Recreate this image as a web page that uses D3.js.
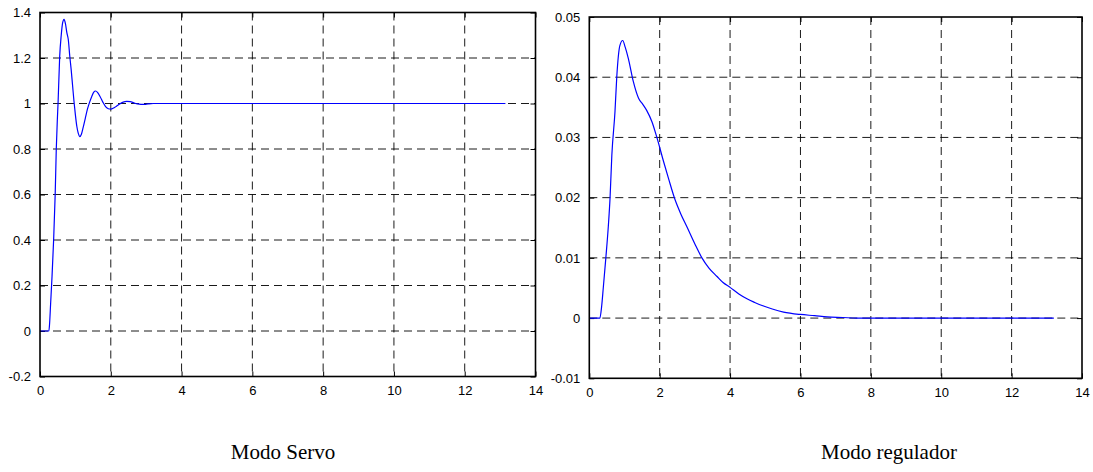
<!DOCTYPE html>
<html>
<head>
<meta charset="utf-8">
<script src="https://cdn.jsdelivr.net/npm/d3@7"></script>
<style>
  html, body { margin: 0; padding: 0; background: #fff; }
  svg { display: block; }
</style>
</head>
<body>
<svg id="chart" width="1093" height="472"></svg>
<script>
// ---- Data ----
const xTicks = [0, 2, 4, 6, 8, 10, 12, 14];

const servoYTicks = [-0.2, 0, 0.2, 0.4, 0.6, 0.8, 1, 1.2, 1.4];
const servoYTickLabels = ["-0.2", "0", "0.2", "0.4", "0.6", "0.8", "1", "1.2", "1.4"];
const servoT = [0, 0.25, 0.27, 0.30, 0.34, 0.385, 0.43, 0.46, 0.49, 0.51, 0.556, 0.60, 0.64, 0.68,
  0.72, 0.76, 0.80, 0.84, 0.88, 0.92, 0.96, 1.00, 1.04, 1.08, 1.12, 1.17, 1.22, 1.28, 1.34, 1.40,
  1.46, 1.52, 1.57, 1.63, 1.70, 1.78, 1.86, 1.93, 2.00, 2.08, 2.16, 2.25, 2.35, 2.45, 2.55, 2.65,
  2.75, 2.85, 2.95, 3.05, 3.20, 13.15];
const servoY = [0, 0, 0.03, 0.12, 0.24, 0.40, 0.605, 0.80, 0.93, 1.0, 1.206, 1.30, 1.355, 1.37,
  1.35, 1.31, 1.28, 1.21, 1.15, 1.08, 1.01, 0.95, 0.90, 0.87, 0.854, 0.865, 0.895, 0.935, 0.975, 1.005,
  1.03, 1.05, 1.055, 1.048, 1.03, 1.005, 0.985, 0.977, 0.975, 0.98, 0.988, 0.998, 1.006, 1.009, 1.008, 1.003,
  0.998, 0.996, 0.996, 0.998, 1.0, 1.0];

const regYTicks = [-0.01, 0, 0.01, 0.02, 0.03, 0.04, 0.05];
const regYTickLabels = ["-0.01", "0", "0.01", "0.02", "0.03", "0.04", "0.05"];
const regT = [0, 0.30, 0.35, 0.40, 0.47, 0.54, 0.59, 0.64, 0.73, 0.78, 0.87, 0.95, 1.02, 1.11, 1.25,
  1.40, 1.52, 1.63, 1.78, 1.92, 2.11, 2.25, 2.44, 2.60, 2.77, 3.00, 3.20, 3.40, 3.63, 3.80, 4.00,
  4.25, 4.48, 4.70, 4.95, 5.20, 5.52, 6.00, 6.40, 6.76, 7.20, 7.60, 13.2];
const regY = [0, 0, 0.0019, 0.0052, 0.010, 0.0152, 0.020, 0.027, 0.0343, 0.040, 0.0453, 0.0461, 0.0450, 0.0431, 0.0393,
  0.0365, 0.0355, 0.0345, 0.0326, 0.0300, 0.026, 0.0232, 0.0196, 0.0173, 0.0152, 0.0123, 0.0100, 0.0083, 0.0069, 0.0059, 0.0051,
  0.0040, 0.0032, 0.0026, 0.0020, 0.0015, 0.0010, 0.0006, 0.0004, 0.0002, 0.0001, 0, 0];

const captions = ["Modo Servo", "Modo regulador"];

// ---- Drawing ----
const svg = d3.select("#chart");

function drawPanel(opt) {
  const x = d3.scaleLinear().domain([0, 14]).range([opt.left, opt.right]);
  const y = d3.scaleLinear().domain(opt.yDomain).range([opt.bottom, opt.top]);
  const g = svg.append("g");

  // grid
  g.selectAll(".vg").data(xTicks.slice(1, -1)).enter().append("line")
    .attr("x1", d => x(d)).attr("x2", d => x(d))
    .attr("y1", opt.top).attr("y2", opt.bottom)
    .attr("stroke", "#000").attr("stroke-width", 0.9).attr("stroke-dasharray", "8,5");
  g.selectAll(".hg").data(opt.yTicks.slice(1, -1)).enter().append("line")
    .attr("x1", opt.left).attr("x2", opt.right)
    .attr("y1", d => y(d)).attr("y2", d => y(d))
    .attr("stroke", "#000").attr("stroke-width", 0.9).attr("stroke-dasharray", "8,5");

  // axes (inward ticks, MATLAB-style box)
  const tl = 5;
  const fmt = (labels, ticks) => (d) => labels[ticks.indexOf(d)];
  const ax = g.append("g").attr("transform", `translate(0,${opt.bottom})`)
    .call(d3.axisBottom(x).tickValues(xTicks).tickSizeInner(-tl).tickSizeOuter(0).tickPadding(tl + 4));
  const axTop = g.append("g").attr("transform", `translate(0,${opt.top})`)
    .call(d3.axisTop(x).tickValues(xTicks).tickSizeInner(-tl).tickSizeOuter(0).tickFormat(""));
  const ay = g.append("g").attr("transform", `translate(${opt.left},0)`)
    .call(d3.axisLeft(y).tickValues(opt.yTicks).tickFormat(fmt(opt.yLabels, opt.yTicks))
      .tickSizeInner(-tl).tickSizeOuter(0).tickPadding(tl + 4));
  const ayR = g.append("g").attr("transform", `translate(${opt.right},0)`)
    .call(d3.axisRight(y).tickValues(opt.yTicks).tickSizeInner(-tl).tickSizeOuter(0).tickFormat(""));
  [ax, axTop, ay, ayR].forEach(a => {
    a.select(".domain").remove();
    a.selectAll("line").attr("stroke", "#000").attr("stroke-width", 1);
    a.selectAll("text").attr("fill", "#000")
      .style("font-family", "Arial, 'Liberation Sans', sans-serif").style("font-size", "13px");
  });

  // line (drawn on top of grid and ticks)
  const line = d3.line().x((d, i) => x(opt.t[i])).y(d => y(d)).curve(d3.curveMonotoneX);
  g.append("path").datum(opt.v).attr("d", line)
    .attr("fill", "none").attr("stroke", "#0000ff").attr("stroke-width", 1.2);

  g.append("rect").attr("x", opt.left).attr("y", opt.top)
    .attr("width", opt.right - opt.left).attr("height", opt.bottom - opt.top)
    .attr("fill", "none").attr("stroke", "#000").attr("stroke-width", 1.6);

  // caption
  svg.append("text").attr("x", opt.capX).attr("y", 459).attr("text-anchor", "middle")
    .style("font-family", "'Times New Roman', 'Liberation Serif', serif").style("font-size", "21px")
    .attr("fill", "#000").text(opt.caption);
}

drawPanel({
  left: 40, right: 535.5, top: 12.5, bottom: 376.5,
  yDomain: [-0.2, 1.4], yTicks: servoYTicks, yLabels: servoYTickLabels,
  t: servoT, v: servoY, caption: captions[0], capX: 283
});
drawPanel({
  left: 589.3, right: 1082, top: 17, bottom: 378.3,
  yDomain: [-0.01, 0.05], yTicks: regYTicks, yLabels: regYTickLabels,
  t: regT, v: regY, caption: captions[1], capX: 889
});
</script>
</body>
</html>
